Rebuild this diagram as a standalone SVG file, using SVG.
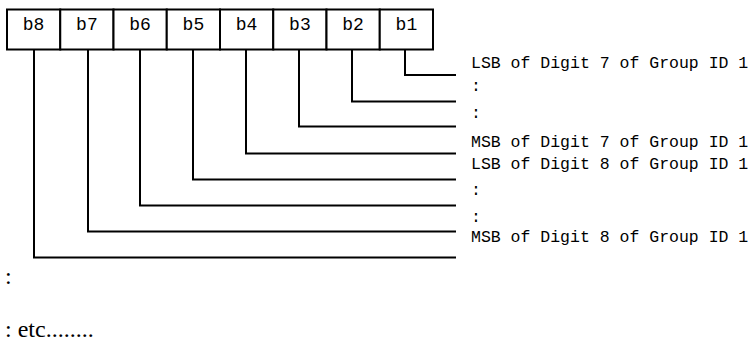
<svg xmlns="http://www.w3.org/2000/svg" width="756" height="344" viewBox="0 0 756 344">
<style>
.box{fill:#fff;stroke:#000;stroke-width:2}
.bl{font-family:"Liberation Mono","Courier New",monospace;font-size:18px;fill:#000;text-anchor:middle}
.lb{font-family:"Liberation Mono","Courier New",monospace;font-size:16.5px;fill:#000}
.sf{font-family:"Liberation Serif","Times New Roman",serif;font-size:24px;fill:#000}
.c{fill:none;stroke:#000;stroke-width:2}
</style>
<rect width="756" height="344" fill="#fff"/>
<g id="register">
<g id="b8"><rect class="box" x="7" y="9.5" width="53.25" height="40"/><text class="bl" x="33.6" y="29.5">b8</text></g>
<g id="b7"><rect class="box" x="60.25" y="9.5" width="53.25" height="40"/><text class="bl" x="86.9" y="29.5">b7</text></g>
<g id="b6"><rect class="box" x="113.5" y="9.5" width="53.25" height="40"/><text class="bl" x="140.1" y="29.5">b6</text></g>
<g id="b5"><rect class="box" x="166.75" y="9.5" width="53.25" height="40"/><text class="bl" x="193.4" y="29.5">b5</text></g>
<g id="b4"><rect class="box" x="220" y="9.5" width="53.25" height="40"/><text class="bl" x="246.6" y="29.5">b4</text></g>
<g id="b3"><rect class="box" x="273.25" y="9.5" width="53.25" height="40"/><text class="bl" x="299.9" y="29.5">b3</text></g>
<g id="b2"><rect class="box" x="326.5" y="9.5" width="53.25" height="40"/><text class="bl" x="353.1" y="29.5">b2</text></g>
<g id="b1"><rect class="box" x="379.75" y="9.5" width="53.25" height="40"/><text class="bl" x="406.4" y="29.5">b1</text></g>
</g>
<g id="connectors">
<polyline class="c" points="405,50 405,75 456,75"/>
<polyline class="c" points="352,50 352,101.5 456,101.5"/>
<polyline class="c" points="299,50 299,126.5 456,126.5"/>
<polyline class="c" points="246,50 246,153.5 456,153.5"/>
<polyline class="c" points="193,50 193,179.5 456,179.5"/>
<polyline class="c" points="140,50 140,205.5 456,205.5"/>
<polyline class="c" points="88,50 88,231.5 456,231.5"/>
<polyline class="c" points="34,50 34,257.5 456,257.5"/>
</g>
<g id="labels">
<text class="lb" x="471" y="68">LSB of Digit 7 of Group ID 1</text>
<text class="lb" x="471" y="91">:</text>
<text class="lb" x="471" y="118">:</text>
<text class="lb" x="471" y="147">MSB of Digit 7 of Group ID 1</text>
<text class="lb" x="471" y="169">LSB of Digit 8 of Group ID 1</text>
<text class="lb" x="471" y="195">:</text>
<text class="lb" x="471" y="222">:</text>
<text class="lb" x="471" y="242">MSB of Digit 8 of Group ID 1</text>
</g>
<g id="notes">
<text class="sf" x="5" y="284">:</text>
<text class="sf" x="5" y="337">: etc........</text>
</g>
</svg>
